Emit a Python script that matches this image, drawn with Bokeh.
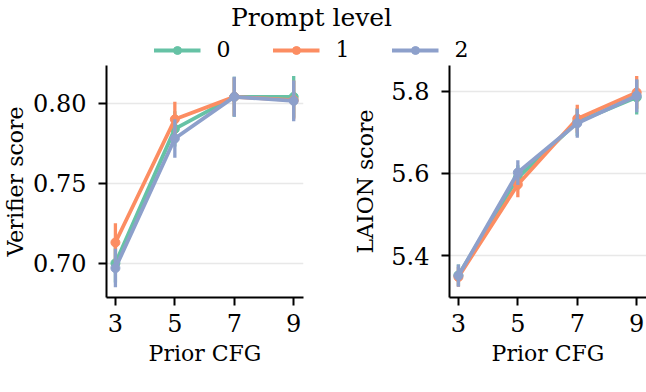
from bokeh.plotting import figure
from bokeh.layouts import column, row
from bokeh.models import (Range1d, FixedTicker, NumeralTickFormatter, Legend,
                          LegendItem, ColumnDataSource)
from bokeh.embed import file_html
from bokeh.resources import INLINE

FONT = "DejaVu Serif"

cfg = [3, 5, 7, 9]
levels = ["0", "1", "2"]
colors = ["#66c2a5", "#fc8d62", "#8da0cb"]

# Verifier score (mean, CI half-width) per prompt level
verifier_0 = [0.700, 0.784, 0.804, 0.804]
verifier_1 = [0.713, 0.790, 0.804, 0.802]
verifier_2 = [0.697, 0.778, 0.804, 0.8015]
verifier_err_0 = [0.012, 0.011, 0.0125, 0.013]
verifier_err_1 = [0.012, 0.011, 0.012, 0.012]
verifier_err_2 = [0.012, 0.012, 0.0125, 0.0128]

# LAION aesthetic score
laion_0 = [5.352, 5.590, 5.725, 5.785]
laion_1 = [5.348, 5.573, 5.733, 5.797]
laion_2 = [5.351, 5.602, 5.722, 5.789]
laion_err_0 = [0.026, 0.030, 0.034, 0.042]
laion_err_1 = [0.024, 0.031, 0.034, 0.040]
laion_err_2 = [0.027, 0.030, 0.035, 0.040]

verifier_ticks = [0.70, 0.75, 0.80]
laion_ticks = [5.4, 5.6, 5.8]

HEAD_H = 62
LW = 3.8
MS = 9


def panel(means, errs, ylabel, yticks, yr, fmt, border_left, border_right,
          label_standoff):
    p = figure(frame_width=197, frame_height=232,
               min_border_left=border_left, min_border_right=border_right,
               min_border_top=65 - HEAD_H, min_border_bottom=95,
               x_range=Range1d(2.7, 9.33), y_range=Range1d(*yr),
               toolbar_location=None, output_backend="svg")
    p.outline_line_color = None
    p.background_fill_color = "white"
    p.xgrid.visible = False
    p.ygrid.grid_line_color = "#e8e8e8"
    p.ygrid.grid_line_width = 1.5
    for ax in (p.xaxis, p.yaxis):
        ax.axis_line_color = "black"
        ax.axis_line_width = 2
        ax.major_tick_line_color = "black"
        ax.major_tick_line_width = 2
        ax.major_tick_out = 8
        ax.major_tick_in = 0
        ax.minor_tick_line_color = None
        ax.major_label_text_font = FONT
        ax.major_label_text_font_size = "24px"
        ax.major_label_text_color = "black"
        ax.axis_label_text_font = FONT
        ax.axis_label_text_font_size = "22px"
        ax.axis_label_text_font_style = "normal"
        ax.axis_label_text_color = "black"
    p.xaxis.ticker = FixedTicker(ticks=cfg)
    p.yaxis.ticker = FixedTicker(ticks=yticks)
    p.yaxis.formatter = NumeralTickFormatter(format=fmt)
    p.xaxis.axis_label = "Prior CFG"
    p.yaxis.axis_label = ylabel
    p.xaxis.major_label_standoff = 8
    p.yaxis.major_label_standoff = 12
    p.xaxis.axis_label_standoff = 6
    p.yaxis.axis_label_standoff = label_standoff
    for m, e, c in zip(means, errs, colors):
        src = ColumnDataSource(dict(x=cfg, y=m,
                                    lo=[a - b for a, b in zip(m, e)],
                                    hi=[a + b for a, b in zip(m, e)]))
        p.segment(x0="x", y0="lo", x1="x", y1="hi", source=src,
                  line_color=c, line_width=3.3)
        p.line("x", "y", source=src, line_color=c, line_width=LW)
        p.scatter("x", "y", source=src, size=MS, fill_color=c, line_color=c)
    return p


left = panel([verifier_0, verifier_1, verifier_2],
             [verifier_err_0, verifier_err_1, verifier_err_2],
             "Verifier score", verifier_ticks, (0.6786, 0.8236), "0.00",
             103, 30, 2)
right = panel([laion_0, laion_1, laion_2],
              [laion_err_0, laion_err_1, laion_err_2],
              "LAION score", laion_ticks, (5.298, 5.8625), "0.0",
              116, 3, 10)

# Header with the shared legend
head = figure(width=646, height=HEAD_H, toolbar_location=None,
              output_backend="svg",
              x_range=Range1d(100, 101), y_range=Range1d(100, 101),
              x_axis_location=None, y_axis_location=None,
              min_border_left=111, min_border_right=135,
              min_border_top=0, min_border_bottom=0,
              title="Prompt level")
head.outline_line_color = None
head.grid.visible = False
head.title.align = "center"
head.title.text_font = FONT
head.title.text_font_size = "25px"
head.title.text_font_style = "normal"
head.title.text_color = "black"
head.title.standoff = 0
items = []
for lvl, m, c in zip(levels, [verifier_0, verifier_1, verifier_2], colors):
    ln = head.line(cfg, m, line_color=c, line_width=LW)
    sc = head.scatter(cfg, m, size=MS - 1, fill_color=c, line_color=c)
    items.append(LegendItem(label=lvl, renderers=[ln, sc]))
legend = Legend(items=items, orientation="horizontal", location="bottom_center",
                glyph_width=47, glyph_height=20, label_standoff=16,
                spacing=42, label_width=14, padding=0, margin=0,
                border_line_color=None, background_fill_alpha=0,
                label_text_font=FONT, label_text_font_size="22px",
                label_text_color="black")
head.add_layout(legend, "center")

layout = column(head, row(left, right))
open("out.html", "w").write(file_html(layout, INLINE))
